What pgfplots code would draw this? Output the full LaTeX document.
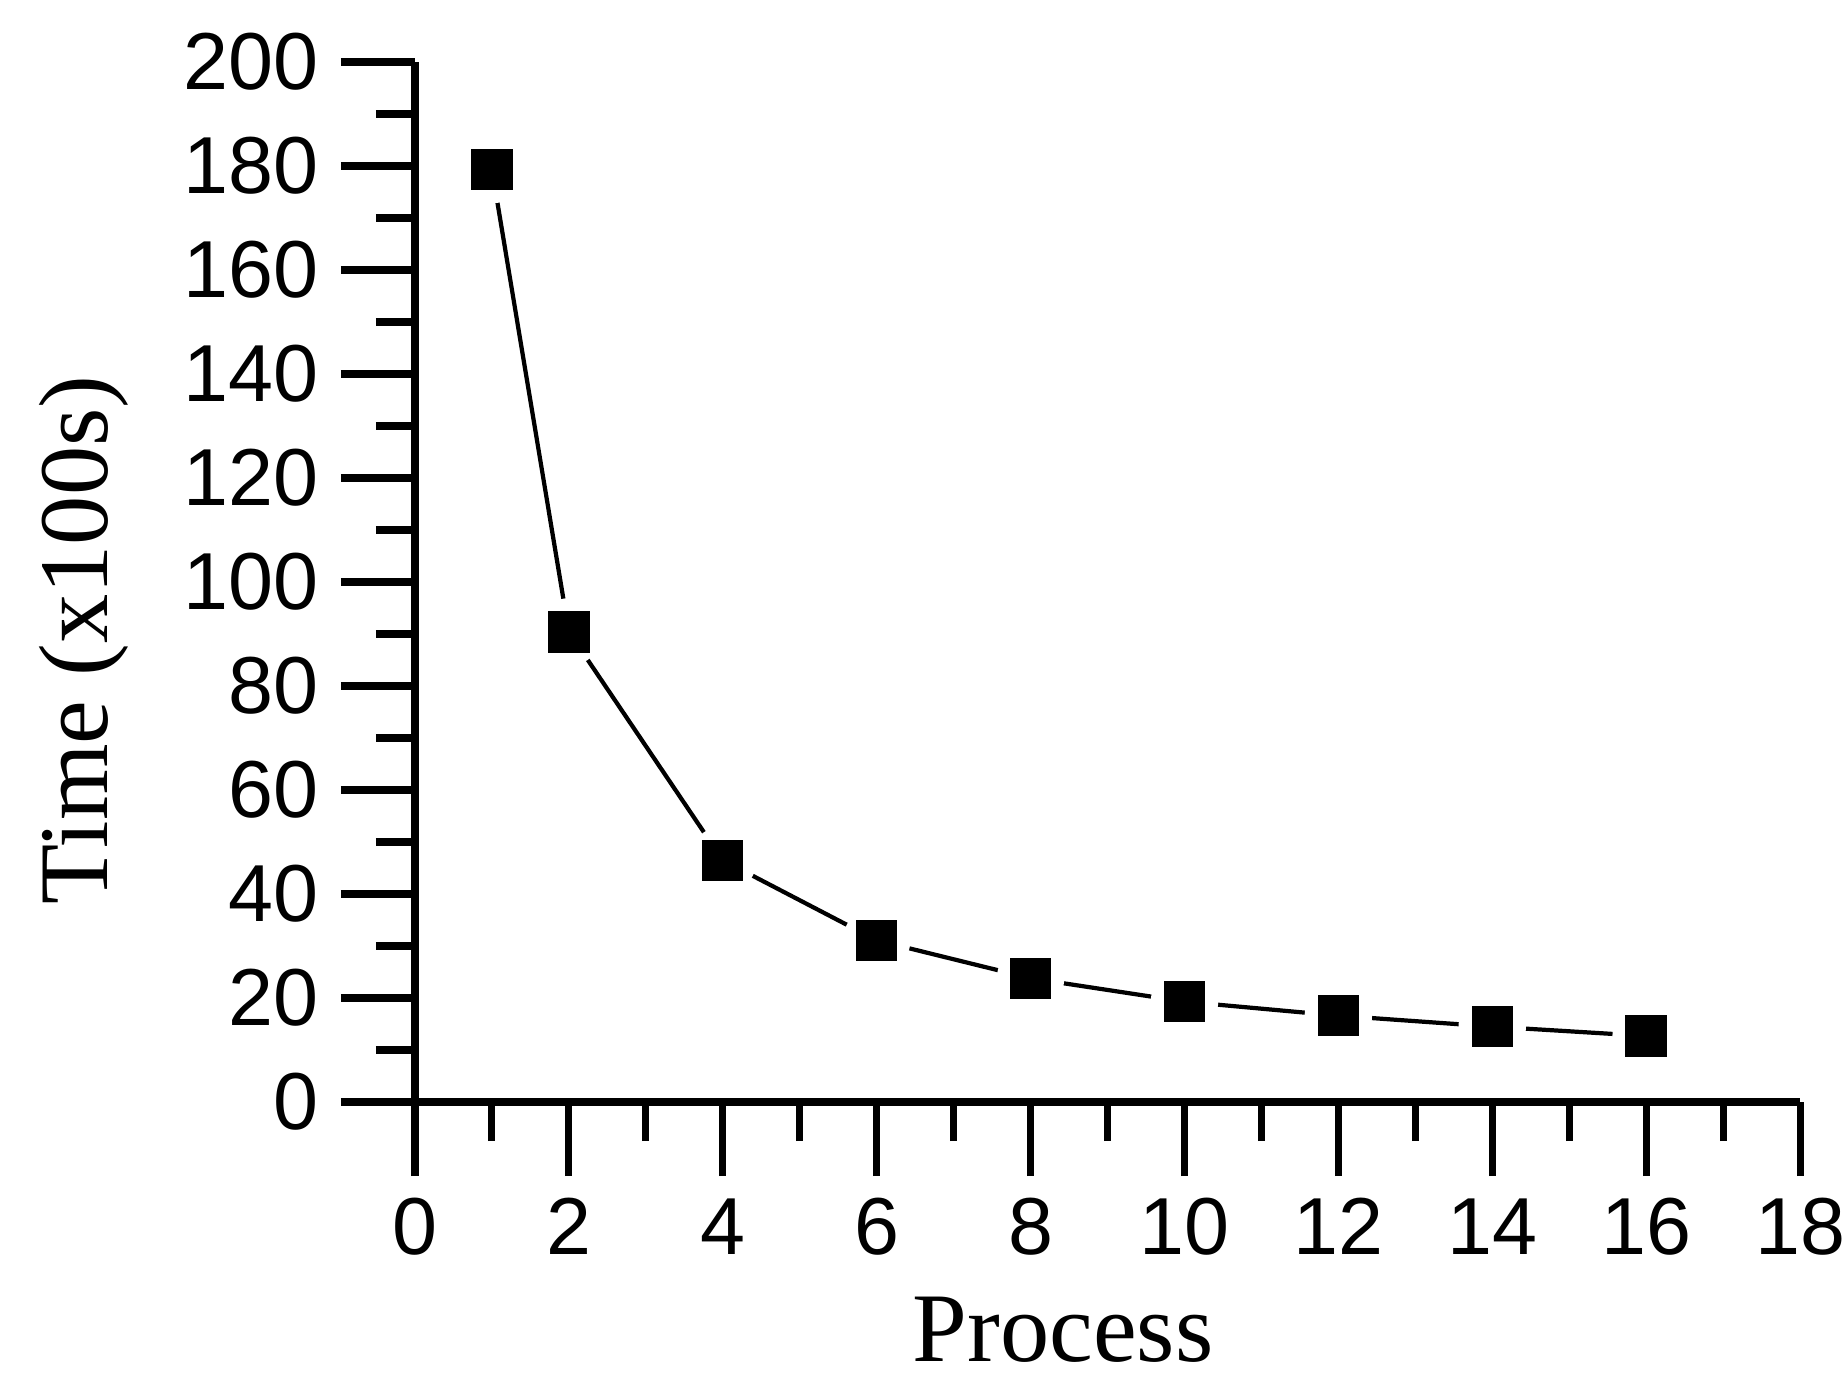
\documentclass[border=0pt]{standalone}
\usepackage{fontspec}
\setmainfont{Liberation Serif}
\newfontfamily\arial{Liberation Sans}
\usepackage{pgfplots}
\usepackage{pgfplotstable}
\pgfplotsset{compat=1.18}

\pgfplotstableread{
proc time
1  179.3
2  90.4
4  46.5
6  31.1
8  23.8
10 19.3
12 16.6
14 14.5
16 12.7
}\timedata

\begin{document}
\begin{tikzpicture}
\begin{axis}[
	name=ax,
	scale only axis,
	width=13.85cm, height=10.4cm,
	xmin=0, xmax=18, ymin=0, ymax=200,
	axis x line=bottom, axis y line=left,
	axis line style={-, line width=2.2pt},
	tick align=outside,
	xtick distance=2, ytick distance=20,
	minor x tick num=1, minor y tick num=1,
	major tick length=0.74cm, minor tick length=0.39cm,
	tick style={line width=2pt, black},
	/pgf/number format/assume math mode=true,
	ticklabel style={font=\arial\fontsize{23}{23}\selectfont},
	xticklabel style={yshift=-0.1cm},
	yticklabel style={xshift=-0.1cm},
	xlabel={Process}, ylabel={Time (x100s)},
	every axis x label/.style={at={([yshift=-2.28cm]axis description cs:0.468,0)}, anchor=center},
	every axis y label/.style={at={([xshift=-3.31cm]axis description cs:0,0.444)}, anchor=center, rotate=90},
	label style={font=\fontsize{28}{28}\selectfont},
	clip=false,
]
\addplot[black, line width=1.2pt] table[x=proc, y=time] {\timedata};
\addplot[white, only marks, mark=*, mark size=0.33cm, mark options={fill=white, draw=white}] table[x=proc, y=time] {\timedata};
\addplot[black, only marks, mark=square*, mark size=0.2cm, mark options={fill=black, draw=black}] table[x=proc, y=time] {\timedata};
\end{axis}
\pgfresetboundingbox
\path[use as bounding box] ([shift={(-4.15cm,-2.95cm)}]ax.south west) rectangle ([shift={(0.46cm,0.62cm)}]ax.north east);
\end{tikzpicture}
\end{document}
